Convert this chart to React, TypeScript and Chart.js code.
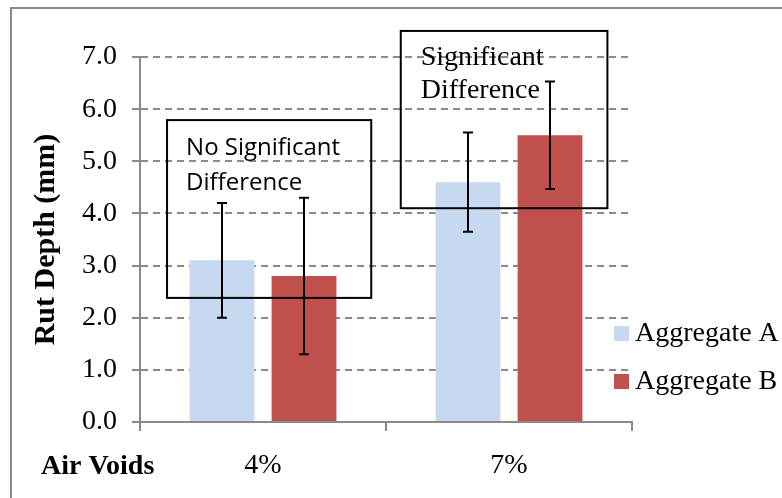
import React, { useEffect, useRef } from 'react';
import { Chart, registerables } from 'chart.js';

Chart.register(...registerables);

const categories = ['4%', '7%'];
const seriesNames = ['Aggregate A', 'Aggregate B'];
const aggA = [3.1, 4.6];
const aggB = [2.8, 5.5];
const errA = [1.1, 0.95];
const errB = [1.5, 1.03];
const colors = ['#c6d9f1', '#c0504d'];
const xAxisLabel = 'Air Voids';
const yAxisLabel = 'Rut Depth (mm)';
const boxX0 = [-0.39, 0.56];
const boxX1 = [0.44, 1.4];
const boxY0 = [2.38, 4.1];
const boxY1 = [5.79, 7.5];
const boxLines = [['No Significant', 'Difference'], ['Significant', 'Difference']];

const SERIF = "'Liberation Serif', 'Times New Roman', serif";
const SANS = "'Open Sans', Lato, sans-serif";
const GRAY = '#8a8a8a';

const extrasPlugin = {
  id: 'extras',
  beforeDraw(chart: any) {
    const ctx = chart.ctx;
    ctx.save();
    ctx.strokeStyle = GRAY;
    ctx.lineWidth = 2;
    ctx.beginPath();
    ctx.moveTo(11, 600);
    ctx.lineTo(11, 8);
    ctx.lineTo(900, 8);
    ctx.stroke();
    ctx.restore();
  },
  afterDatasetsDraw(chart: any) {
    const ctx = chart.ctx;
    const xs = chart.scales.x;
    const ys = chart.scales.y;
    const errs = [errA, errB];
    ctx.save();
    // error bars
    ctx.strokeStyle = '#000';
    ctx.lineWidth = 2;
    chart.data.datasets.forEach((ds: any, di: number) => {
      const meta = chart.getDatasetMeta(di);
      meta.data.forEach((el: any, i: number) => {
        const v = ds.data[i];
        const e = errs[di][i];
        const x = Math.round(el.x);
        const yt = ys.getPixelForValue(v + e);
        const yb = ys.getPixelForValue(v - e);
        ctx.beginPath();
        ctx.moveTo(x, yt);
        ctx.lineTo(x, yb);
        ctx.moveTo(x - 5, yt);
        ctx.lineTo(x + 5, yt);
        ctx.moveTo(x - 5, yb);
        ctx.lineTo(x + 5, yb);
        ctx.stroke();
      });
    });
    // annotation boxes
    for (let b = 0; b < boxLines.length; b++) {
      const l = xs.getPixelForValue(boxX0[b]);
      const r = xs.getPixelForValue(boxX1[b]);
      const t = ys.getPixelForValue(boxY1[b]);
      const bt = ys.getPixelForValue(boxY0[b]);
      ctx.strokeStyle = '#000';
      ctx.lineWidth = 2;
      ctx.strokeRect(l, t, r - l, bt - t);
      ctx.fillStyle = '#000';
      ctx.textAlign = 'left';
      ctx.textBaseline = 'middle';
      if (b === 0) {
        ctx.font = `24px ${SANS}`;
        ctx.fillText(boxLines[b][0], l + 19, t + 28);
        ctx.fillText(boxLines[b][1], l + 19, t + 63);
      } else {
        ctx.font = `28px ${SERIF}`;
        ctx.fillText(boxLines[b][0], l + 20, t + 27);
        ctx.fillText(boxLines[b][1], l + 20, t + 60);
      }
    }
    ctx.restore();
  },
  afterDraw(chart: any) {
    const ctx = chart.ctx;
    ctx.save();
    // legend
    chart.data.datasets.forEach((ds: any, i: number) => {
      ctx.fillStyle = ds.backgroundColor;
      ctx.fillRect(614, 326 + i * 48, 15, 15);
      ctx.fillStyle = '#000';
      ctx.font = `28px ${SERIF}`;
      ctx.textAlign = 'left';
      ctx.textBaseline = 'middle';
      ctx.fillText(ds.label, 635, 334 + i * 48);
    });
    // x axis label
    ctx.font = `bold 28px ${SERIF}`;
    ctx.fillText(xAxisLabel, 41, 467);
    ctx.restore();
  },
};

export default function App() {
  const ref = useRef<HTMLCanvasElement>(null);
  useEffect(() => {
    document.body.style.margin = '0';
    const chart = new Chart(ref.current as HTMLCanvasElement, {
      type: 'bar',
      data: {
        labels: categories,
        datasets: [
          { label: seriesNames[0], data: aggA, backgroundColor: colors[0] },
          { label: seriesNames[1], data: aggB, backgroundColor: colors[1] },
        ],
      },
      plugins: [extrasPlugin],
      options: {
        animation: false,
        responsive: false,
        devicePixelRatio: 1,
        layout: { padding: { left: 0, top: 57, right: 150, bottom: 0 } },
        datasets: { bar: { categoryPercentage: 0.667, barPercentage: 0.79 } },
        plugins: { legend: { display: false }, tooltip: { enabled: false }, title: { display: false } },
        scales: {
          x: {
            afterFit: (s: any) => { s.height = 76; },
            grid: { drawOnChartArea: false, drawTicks: true, tickLength: 9, color: GRAY, lineWidth: 2, offset: true },
            border: { color: GRAY, width: 2 },
            ticks: { color: '#000', font: { family: SERIF, size: 28 }, padding: 18 },
          },
          y: {
            min: 0,
            max: 7,
            afterFit: (s: any) => { s.width = 140; },
            ticks: {
              stepSize: 1,
              color: '#000',
              font: { family: SERIF, size: 28 },
              padding: 15,
              callback: (v: any) => Number(v).toFixed(1),
            },
            grid: { color: GRAY, lineWidth: 2, tickLength: 8, tickBorderDash: [7, 5] } as any,
            border: { color: GRAY, width: 2, dash: [7, 5] } as any,
            title: {
              display: true,
              text: yAxisLabel,
              color: '#000',
              font: { family: SERIF, size: 30, weight: 'bold', lineHeight: 1 },
              padding: { top: 31, bottom: 0 },
            },
          },
        },
      } as any,
    });
    return () => chart.destroy();
  }, []);
  return <canvas ref={ref} width={782} height={498} style={{ display: 'block' }} />;
}
